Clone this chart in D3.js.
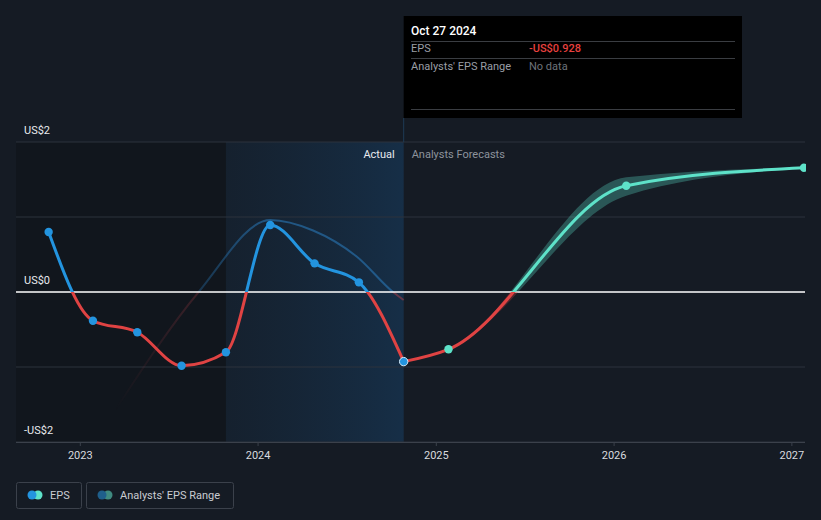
<!DOCTYPE html>
<html><head><meta charset="utf-8">
<script src="https://cdn.jsdelivr.net/npm/d3@7"></script>
<style>
body{margin:0;background:#151b24;}
svg{display:block;font-family:Roboto,"Noto Sans",sans-serif;}
</style>
</head><body><svg id="c" width="821" height="520"></svg>
<script>
// ---- data ----
const actualDates = ["2022-10-29","2023-01-28","2023-04-29","2023-07-29","2023-10-28","2024-01-27","2024-04-27","2024-07-27","2024-10-27"];
const actualEps   = [0.80,-0.383,-0.537,-0.983,-0.804,0.893,0.382,0.129,-0.928];
const forecastDates = ["2024-10-27","2025-01-27","2026-01-27","2027-01-27"];
const forecastEps   = [-0.928,-0.764,1.417,1.657];
const rangeLow  = [-0.928,-0.764,1.285,1.652];
const rangeHigh = [-0.928,-0.764,1.53,1.662];
const priorDates = ["2023-03-15","2023-09-02","2024-01-27","2024-04-24","2024-07-23","2024-10-05","2024-10-27"];
const priorEps   = [-1.573,0,0.96,0.82,0.47,0,-0.107];
const yLabelValues = [2,0,-2];
const yLabelText = ["US$2","US$0","-US$2"];
const yGridValues = [2,1,-1,-2];
const xTickYears = ["2023","2024","2025","2026","2027"];
const legendItems = ["EPS","Analysts' EPS Range"];

// ---- setup ----
const parse = d3.utcParse("%Y-%m-%d");
const svg = d3.select("#c");
const W = 821, H = 520;
const pL = 16, pR = 805, pT = 142, pB = 442;
const x = d3.scaleUtc().domain([parse("2022-08-23"), parse("2027-01-29")]).range([pL, pR]);
const y = d3.scaleLinear().domain([-2, 2]).range([pB, pT]);

const BLUE = "#2394df", RED = "#e04343", TEAL = "#5ee2c9";

svg.append("rect").attr("width", W).attr("height", H).attr("fill", "#151b24");

const defs = svg.append("defs");
const hl = defs.append("linearGradient").attr("id","hl").attr("x1","0").attr("x2","1");
hl.append("stop").attr("offset","0").attr("stop-color","#16324d").attr("stop-opacity",0.25);
hl.append("stop").attr("offset","1").attr("stop-color","#17426a").attr("stop-opacity",0.5);

const pg = defs.append("linearGradient").attr("id","pg").attr("gradientUnits","userSpaceOnUse")
  .attr("x1", x(parse(priorDates[0]))).attr("x2", x(parse("2024-01-27"))).attr("y1",0).attr("y2",0);
pg.append("stop").attr("offset","0").attr("stop-color","#fff").attr("stop-opacity",0);
pg.append("stop").attr("offset","1").attr("stop-color","#fff").attr("stop-opacity",1);
const pm = defs.append("mask").attr("id","pm").attr("maskUnits","userSpaceOnUse")
  .attr("x",0).attr("y",0).attr("width",W).attr("height",H);
pm.append("rect").attr("x",0).attr("y",0).attr("width",W).attr("height",H).attr("fill","url(#pg)");

defs.append("clipPath").attr("id","above").append("rect")
  .attr("x", pL).attr("y", 0).attr("width", pR - pL + 2).attr("height", y(0));
defs.append("clipPath").attr("id","below").append("rect")
  .attr("x", pL).attr("y", y(0)).attr("width", pR - pL + 2).attr("height", H - y(0));
defs.append("clipPath").attr("id","plot").append("rect")
  .attr("x", pL).attr("y", 0).attr("width", pR - pL + 1).attr("height", H);

// shaded regions
const hlStart = x(parse("2023-10-28")), hlEnd = x(parse("2024-10-27"));
svg.append("rect").attr("x", pL).attr("y", pT).attr("width", hlStart - pL).attr("height", pB - pT)
  .attr("fill", "#0c0f14").attr("opacity", 0.4);
svg.append("rect").attr("x", hlStart).attr("y", pT).attr("width", hlEnd - hlStart).attr("height", pB - pT)
  .attr("fill", "url(#hl)");

// grid
svg.append("g").selectAll("line").data(yGridValues).join("line")
  .attr("x1", pL).attr("x2", pR).attr("y1", d => y(d)).attr("y2", d => y(d))
  .attr("stroke", "#2c323c").attr("stroke-width", 1);

// y labels
svg.append("g").selectAll("text").data(yLabelValues).join("text")
  .attr("x", 24).attr("y", d => y(d) - 8).attr("fill", "#e8eaee").attr("font-size", 11)
  .text((d, i) => yLabelText[i]);

// x axis
const xAxis = d3.axisBottom(x).tickValues(xTickYears.map(s => parse(s + "-01-01")))
  .tickFormat(d3.utcFormat("%Y")).tickSize(4).tickPadding(5);
const ax = svg.append("g").attr("transform", `translate(0,${pB})`).call(xAxis);
ax.select(".domain").attr("stroke", "#3b414b").attr("d", `M${pL},0.5H${pR}`);
ax.selectAll(".tick line").attr("stroke", "#3b414b");
ax.selectAll(".tick text").attr("fill", "#d8dadf").attr("font-size", 11).attr("font-family", "Roboto, sans-serif");

// tooltip connector
svg.append("line").attr("x1", hlEnd).attr("x2", hlEnd).attr("y1", 118).attr("y2", pT)
  .attr("stroke", "#1e3a55").attr("stroke-width", 1);

// Actual / Forecast labels
svg.append("text").attr("x", hlEnd - 9).attr("y", 158).attr("text-anchor", "end")
  .attr("fill", "#e8eaee").attr("font-size", 11).text("Actual");
svg.append("text").attr("x", hlEnd + 8).attr("y", 158)
  .attr("fill", "#8d939c").attr("font-size", 11).text("Analysts Forecasts");

// prior estimate thin line
const priorData = priorDates.map((d, i) => ({ d: parse(d), v: priorEps[i] }));
const thinLine = d3.line().x(p => x(p.d)).y(p => y(p.v)).curve(d3.curveMonotoneX);
const pgroup = svg.append("g").attr("mask", "url(#pm)");
pgroup.append("path").attr("d", thinLine(priorData)).attr("fill", "none")
  .attr("stroke", "#2a78b8").attr("stroke-opacity", 0.6).attr("stroke-width", 2).attr("clip-path", "url(#above)");
pgroup.append("path").attr("d", thinLine(priorData)).attr("fill", "none")
  .attr("stroke", "#b0404a").attr("stroke-opacity", 0.5).attr("stroke-width", 2).attr("clip-path", "url(#below)");

// zero line
svg.append("line").attr("x1", pL).attr("x2", pR).attr("y1", y(0)).attr("y2", y(0))
  .attr("stroke", "#ffffff").attr("stroke-width", 1.3);

// range band
const bandData = forecastDates.map((d, i) => ({ d: parse(d), lo: rangeLow[i], hi: rangeHigh[i] }));
const area = d3.area().x(p => x(p.d)).y0(p => y(p.lo)).y1(p => y(p.hi)).curve(d3.curveMonotoneX);
svg.append("path").attr("d", area(bandData)).attr("fill", TEAL).attr("fill-opacity", 0.3).attr("clip-path", "url(#above)");
svg.append("path").attr("d", area(bandData)).attr("fill", RED).attr("fill-opacity", 0.3).attr("clip-path", "url(#below)");

// lines
const line = d3.line().x(p => x(p.d)).y(p => y(p.v)).curve(d3.curveMonotoneX);
const actualData = actualDates.map((d, i) => ({ d: parse(d), v: actualEps[i] }));
const forecastData = forecastDates.map((d, i) => ({ d: parse(d), v: forecastEps[i] }));
svg.append("path").attr("d", line(actualData)).attr("fill", "none").attr("stroke", BLUE).attr("stroke-width", 3).attr("clip-path", "url(#above)");
svg.append("path").attr("d", line(actualData)).attr("fill", "none").attr("stroke", RED).attr("stroke-width", 3).attr("clip-path", "url(#below)");
svg.append("path").attr("d", line(forecastData)).attr("fill", "none").attr("stroke", TEAL).attr("stroke-width", 3).attr("clip-path", "url(#above)");
svg.append("path").attr("d", line(forecastData)).attr("fill", "none").attr("stroke", RED).attr("stroke-width", 3).attr("clip-path", "url(#below)");

// markers
const mk = svg.append("g").attr("clip-path", "url(#plot)");
mk.selectAll("circle.f").data(forecastData.slice(1)).join("circle").attr("class", "f")
  .attr("cx", p => x(p.d)).attr("cy", p => y(p.v)).attr("r", 4.2).attr("fill", TEAL);
mk.selectAll("circle.a").data(actualData).join("circle").attr("class", "a")
  .attr("cx", p => x(p.d)).attr("cy", p => y(p.v)).attr("r", 4.2).attr("fill", BLUE)
  .attr("stroke", (p, i) => i === actualData.length - 1 ? "#d6ecfa" : "none").attr("stroke-width", 1);

// tooltip
const tt = svg.append("g");
tt.append("rect").attr("x", hlEnd).attr("y", 16).attr("width", 742 - hlEnd).attr("height", 102).attr("fill", "#000");
[41, 58, 109].forEach(yy => tt.append("line").attr("x1", 411).attr("x2", 735).attr("y1", yy + 0.5).attr("y2", yy + 0.5)
  .attr("stroke", "#3a3d42").attr("stroke-width", 1));
tt.append("text").attr("x", 411).attr("y", 35).attr("fill", "#fff").attr("font-size", 12).attr("font-weight", 500).text("Oct 27 2024");
tt.append("text").attr("x", 411).attr("y", 52).attr("fill", "#9a9ea5").attr("font-size", 11).text("EPS");
tt.append("text").attr("x", 529).attr("y", 52).attr("fill", "#e8413f").attr("font-size", 11).attr("font-weight", 500)
  .text("-US$" + Math.abs(actualEps[actualEps.length - 1]).toFixed(3));
tt.append("text").attr("x", 411).attr("y", 70).attr("fill", "#9a9ea5").attr("font-size", 11).text("Analysts' EPS Range");
tt.append("text").attr("x", 529).attr("y", 70).attr("fill", "#6e737a").attr("font-size", 11).text("No data");

// legend
const lg = svg.append("g");
const boxes = [{ x: 16.5, w: 65, c1: BLUE, c2: TEAL }, { x: 86.5, w: 147, c1: "#1f5f8b", c2: "#3f8a80" }];
boxes.forEach((b, i) => {
  lg.append("rect").attr("x", b.x).attr("y", 482.5).attr("width", b.w).attr("height", 26).attr("rx", 2)
    .attr("fill", "none").attr("stroke", "#3b414b");
  lg.append("circle").attr("cx", b.x + 21.5).attr("cy", 495).attr("r", 4.5).attr("fill", b.c2);
  lg.append("circle").attr("cx", b.x + 15.5).attr("cy", 495).attr("r", 4.5).attr("fill", b.c1);
  lg.append("text").attr("x", b.x + 33.5).attr("y", 499).attr("fill", "#c9ccd2").attr("font-size", 11).text(legendItems[i]);
});
</script>
</body></html>
